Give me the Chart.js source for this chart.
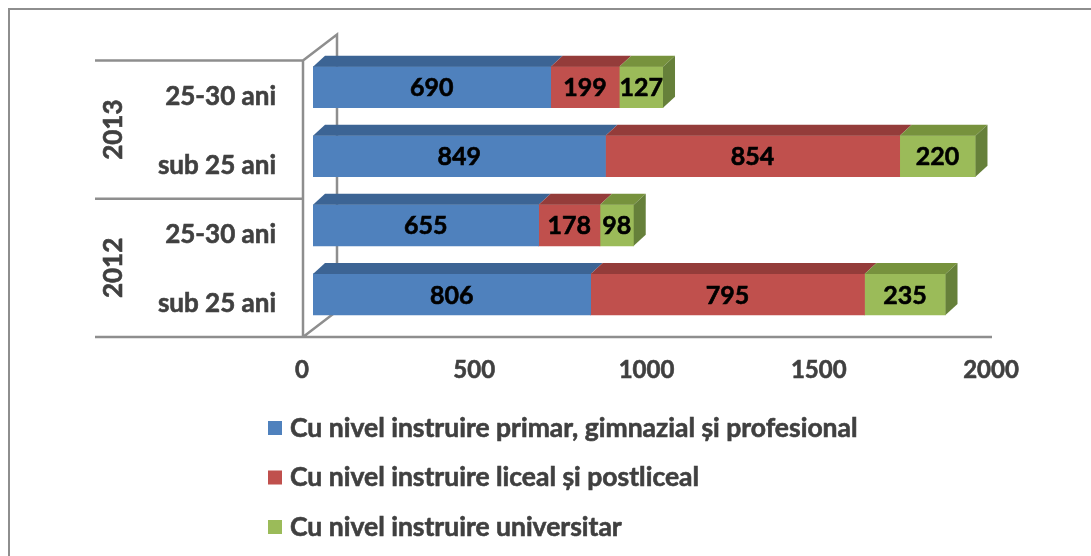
<!DOCTYPE html>
<html>
<head>
<meta charset="utf-8">
<script src="https://cdn.jsdelivr.net/npm/chart.js@4.4.0/dist/chart.umd.min.js"></script>
<style>
    html, body { margin: 0; padding: 0; background: #fff; }
    #wrap { width: 1091px; height: 556px; }
</style>
</head>
<body>
<div id="wrap"><canvas id="myChart" width="1091" height="556"></canvas></div>
<script>
// data, top to bottom as in the picture
const groups = ['25-30 ani', 'sub 25 ani', '25-30 ani', 'sub 25 ani'];
const years = ['2013', '2012'];
const primar = [690, 849, 655, 806];
const liceal = [199, 854, 178, 795];
const universitar = [127, 220, 98, 235];
const seriesNames = [
    'Cu nivel instruire primar, gimnazial și profesional',
    'Cu nivel instruire liceal și postliceal',
    'Cu nivel instruire universitar'
];
const xTicks = [0, 500, 1000, 1500, 2000];

const front = ['#4F81BD', '#C0504D', '#9BBB59'];
const topFace = ['#3C6494', '#943C3A', '#77923D'];
const sideFace = ['#385D8A', '#8C3836', '#66803A'];
const FONT = 'Lato';
const DX = 12, DY = 11;
const lineGray = '#8E8E8E';
const textGray = '#404040';

// frame, walls and the year labels on the left
const walls = {
    id: 'walls',
    beforeDatasetsDraw(chart) {
        const ctx = chart.ctx;
        const a = chart.chartArea;
        const fx = a.left - 10;
        const bx = fx + 34;
        const y0 = a.top + 8;
        const y2 = a.bottom + 8;
        const ym = (y0 + y2) / 2;

        ctx.save();
        ctx.strokeStyle = lineGray;
        ctx.lineWidth = 2;
        ctx.beginPath();
        // frame
        ctx.rect(9, 9, 1200, 700);
        ctx.stroke();

        ctx.lineWidth = 2.5;
        ctx.beginPath();
        ctx.moveTo(95, y0); ctx.lineTo(fx, y0);
        ctx.moveTo(95, ym); ctx.lineTo(fx, ym);
        ctx.moveTo(95, y2); ctx.lineTo(a.right - 10, y2);
        ctx.moveTo(fx, y0); ctx.lineTo(fx, y2);
        ctx.moveTo(fx, y0); ctx.lineTo(bx, y0 - 26);
        ctx.lineTo(bx, y2 - 26);
        ctx.moveTo(fx, y2); ctx.lineTo(bx, y2 - 26);
        ctx.stroke();

        ctx.fillStyle = textGray;
        ctx.strokeStyle = textGray;
        ctx.lineWidth = 0.6;
        ctx.font = 'bold 26px ' + FONT;
        ctx.textAlign = 'center';
        ctx.textBaseline = 'middle';
        [(y0 + ym) / 2, (ym + y2) / 2].forEach((cy, i) => {
            ctx.save();
            ctx.translate(114, cy);
            ctx.rotate(-Math.PI / 2);
            ctx.fillText(years[i], 0, 0);
            ctx.strokeText(years[i], 0, 0);
            ctx.restore();
        });
        ctx.restore();
    },
    afterDatasetsDraw(chart) {
        const ctx = chart.ctx;
        const last = chart.data.datasets.length - 1;
        ctx.save();
        chart.data.datasets.forEach((ds, di) => {
            const meta = chart.getDatasetMeta(di);
            meta.data.forEach((bar, i) => {
                const t = bar.y - bar.height / 2;
                const b = bar.y + bar.height / 2;
                const x0 = bar.base, x1 = bar.x;
                ctx.fillStyle = topFace[di];
                ctx.beginPath();
                ctx.moveTo(x0, t); ctx.lineTo(x1, t);
                ctx.lineTo(x1 + DX, t - DY); ctx.lineTo(x0 + DX, t - DY);
                ctx.closePath();
                ctx.fill();
                if (di === last) {
                    ctx.fillStyle = sideFace[di];
                    ctx.beginPath();
                    ctx.moveTo(x1, t); ctx.lineTo(x1 + DX, t - DY);
                    ctx.lineTo(x1 + DX, b - DY); ctx.lineTo(x1, b);
                    ctx.closePath();
                    ctx.fill();
                }
                ctx.fillStyle = '#000';
                ctx.strokeStyle = '#000';
                ctx.lineWidth = 0.6;
                ctx.font = 'bold 25px ' + FONT;
                ctx.textAlign = 'center';
                ctx.textBaseline = 'middle';
                ctx.fillText(ds.data[i], (x0 + x1) / 2, bar.y + 1);
                ctx.strokeText(ds.data[i], (x0 + x1) / 2, bar.y + 1);
            });
        });
        ctx.restore();
    },
    afterDraw(chart) {
        const ctx = chart.ctx;
        ctx.save();
        ctx.font = 'bold 26.5px ' + FONT;
        ctx.textBaseline = 'middle';
        ctx.lineWidth = 0.6;
        chart.data.datasets.forEach((ds, i) => {
            const y = 428 + i * 49.5;
            ctx.fillStyle = front[i];
            ctx.fillRect(268, y - 7, 14, 14);
            ctx.fillStyle = textGray;
            ctx.strokeStyle = textGray;
            ctx.fillText(ds.label, 290, y);
            ctx.strokeText(ds.label, 290, y);
        });
        ctx.restore();
    }
};

const config = {
    type: 'bar',
    data: {
        labels: groups,
        datasets: [
            { label: seriesNames[0], data: primar, backgroundColor: front[0] },
            { label: seriesNames[1], data: liceal, backgroundColor: front[1] },
            { label: seriesNames[2], data: universitar, backgroundColor: front[2] }
        ]
    },
    options: {
        indexAxis: 'y',
        responsive: false,
        animation: false,
        barThickness: 41,
        layout: { padding: { top: 44, right: 89, left: 0, bottom: 0 } },
        scales: {
            x: {
                stacked: true,
                min: 0,
                max: 2000,
                grid: { display: false, drawTicks: false },
                border: { display: false },
                afterBuildTicks: s => { s.ticks = xTicks.map(v => ({ value: v })); },
                afterFit: s => { s.height = 227; },
                ticks: {
                    labelOffset: -11,
                    padding: 27,
                    color: textGray,
                    textStrokeColor: textGray,
                    textStrokeWidth: 0.6,
                    font: { family: FONT, size: 24, weight: 'bold' },
                    callback: v => String(v)
                }
            },
            y: {
                stacked: true,
                grid: { display: false, drawTicks: false },
                border: { display: false },
                afterFit: s => { s.width = 313; },
                ticks: {
                    labelOffset: 9,
                    padding: 37,
                    color: textGray,
                    textStrokeColor: textGray,
                    textStrokeWidth: 0.6,
                    font: { family: FONT, size: 26, weight: 'bold' }
                }
            }
        },
        plugins: {
            legend: { display: false },
            tooltip: { enabled: false }
        }
    },
    plugins: [walls]
};

const myChart = new Chart(document.getElementById('myChart'), config);
</script>
</body>
</html>
